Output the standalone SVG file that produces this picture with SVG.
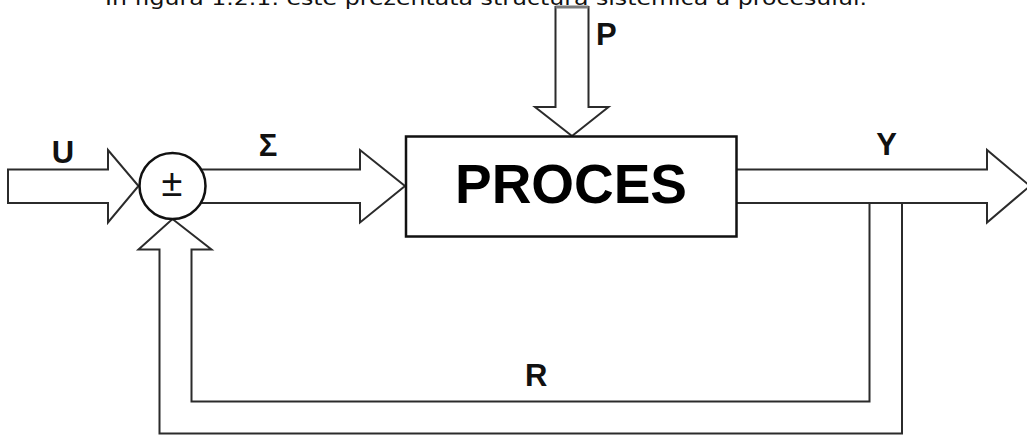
<svg xmlns="http://www.w3.org/2000/svg" width="1027" height="435" viewBox="0 0 1027 435">
  <style>
    .flow { fill: #ffffff; stroke: #2b2b2b; stroke-width: 2; stroke-linejoin: miter; }
    .loop { fill: none; stroke: #2b2b2b; stroke-width: 2; stroke-linejoin: miter; }
    .block { fill: #ffffff; stroke: #111111; stroke-width: 2.5; }
    .lbl { font-family: "Liberation Sans", Arial, sans-serif; font-weight: bold; font-size: 31px; fill: #111111; }
    .caption { font-family: "DejaVu Sans", Verdana, sans-serif; font-size: 19px; fill: #111111; }
  </style>
  <rect width="1027" height="435" fill="#ffffff"/>

  <!-- caption line above the figure -->
  <text class="caption" x="105" y="5" textLength="762" lengthAdjust="spacingAndGlyphs">În figura 1.2.1. este prezentată structura sistemică a procesului.</text>

  <g id="connectors">
    <!-- input U -->
    <polygon class="flow" points="8,169.5 108,169.5 108,150 138.5,186 108,222.5 108,203 8,203"/>
    <!-- error signal into the process -->
    <polyline class="flow" points="190,169.5 360,169.5 360,150 405,186 360,222.5 360,203 190,203"/>
    <!-- disturbance P -->
    <polygon class="flow" points="555.5,7 588.5,7 588.5,107 608.5,107 572,136 535,107 555.5,107"/>
    <line x1="555.5" y1="7" x2="588.5" y2="7" stroke="#7a7a7a" stroke-width="3"/>
    <!-- output Y -->
    <polyline class="flow" points="737,169.5 987,169.5 987,150 1030,186 987,222.5 987,203 737,203"/>
    <!-- feedback R -->
    <polyline class="loop" points="869.5,203 869.5,401.5 191.5,401.5 191.5,249.5 211.5,249.5 172.5,219 138.5,249.5 159.5,249.5 159.5,433.5 902,433.5 902,203"/>
  </g>

  <g id="sum">
    <circle cx="172.5" cy="186" r="33" fill="#ffffff" stroke="#111111" stroke-width="2.5"/>
    <text x="172" y="196" text-anchor="middle" font-family="Liberation Sans, Arial, sans-serif" font-size="38" fill="#111111">±</text>
  </g>

  <g id="proces">
    <rect class="block" x="406" y="136.5" width="330.5" height="100"/>
    <text x="571" y="203" text-anchor="middle" font-family="Liberation Sans, Arial, sans-serif" font-weight="bold" font-size="56" fill="#000000" textLength="232" lengthAdjust="spacingAndGlyphs">PROCES</text>
  </g>

  <g id="labels">
    <text class="lbl" x="63" y="162.5" text-anchor="middle">U</text>
    <text class="lbl" x="268" y="156" text-anchor="middle">Σ</text>
    <text class="lbl" x="596" y="45">P</text>
    <text class="lbl" x="886.5" y="155" text-anchor="middle">Y</text>
    <text class="lbl" x="525" y="386">R</text>
  </g>
</svg>
